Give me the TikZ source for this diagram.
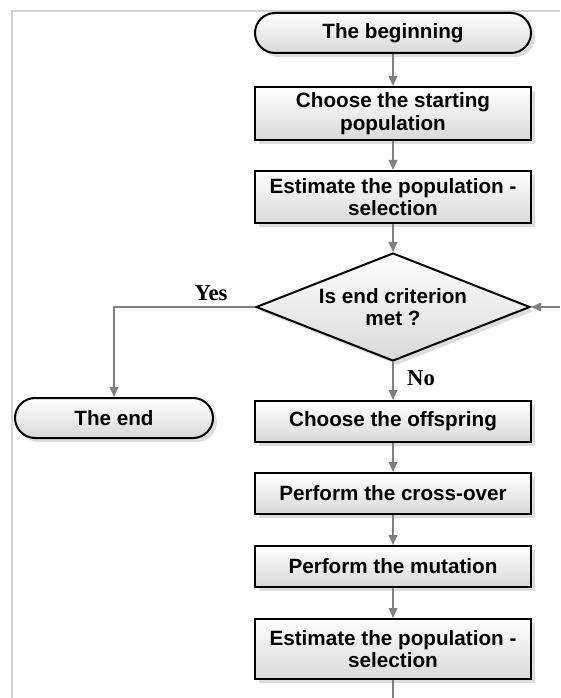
\documentclass[tikz,border=0pt]{standalone}
\usepackage{fontspec}
\setmainfont{Liberation Sans}
\newfontfamily\yesnofont{Liberation Serif}
\usetikzlibrary{shapes.geometric,shadows,arrows.meta}

\tikzset{
  box/.style={draw=black, line width=1.5pt, top color=white, bottom color=gray!30,
    drop shadow={shadow xshift=3pt,shadow yshift=-3pt,fill=gray!45,opacity=.6},
    minimum width=207pt, align=center, inner sep=2pt,
    font=\fontsize{15.5}{17}\selectfont\bfseries},
  term/.style={box, rounded corners=15pt},
  decision/.style={box, diamond, aspect=2.5, minimum width=205.5pt, minimum height=81pt, inner sep=0pt},
  arr/.style={draw=gray, line width=1.3pt, -{Triangle[length=7.5pt,width=6.5pt]}},
  lbl/.style={font=\yesnofont\fontsize{17}{17}\selectfont\bfseries}
}

\begin{document}
\begin{tikzpicture}[x=0.75pt,y=0.75pt,yscale=-1,xscale=1]
\useasboundingbox (0,0) rectangle (560,698);

%frame
\draw[gray!35, line width=1.5pt] (12,698) -- (12,11) -- (560,11);

%main column
\node[term, minimum height=30pt] (begin) at (393,33) {The beginning};
\node[box, minimum height=39.75pt] (choose) at (393,113.5) {Choose the starting\\population};
\node[box, minimum height=39pt] (estimate) at (393,197) {Estimate the population -\\selection};
\node[decision] (crit) at (393,307) {Is end criterion\\met ?};
\node[box, minimum height=30.75pt] (offspring) at (393,421.5) {Choose the offspring};
\node[box, minimum height=30.75pt] (crossover) at (393,493.5) {Perform the cross-over};
\node[box, minimum height=30.75pt] (mutation) at (393,566.5) {Perform the mutation};
\node[box, minimum height=45pt] (estimate2) at (393,649) {Estimate the population -\\selection};

%end
\node[term, minimum width=148.5pt, minimum height=30pt] (theend) at (114,418) {The end};

%labels
\node[lbl] (yes) at (211,293) {Yes};
\node[lbl] (no) at (421,378) {No};

\coordinate (loopin) at (560,307);
\coordinate (loopout) at (393,698);

%connectors
\draw[arr] (begin) -- (choose);
\draw[arr] (choose) -- (estimate);
\draw[arr] (estimate) -- (crit);
\draw[arr] (crit.west) -| (theend.north);
\draw[arr] (crit) -- (offspring);
\draw[arr] (offspring) -- (crossover);
\draw[arr] (crossover) -- (mutation);
\draw[arr] (mutation) -- (estimate2);
\draw[draw=gray, line width=1.3pt] (estimate2) -- (loopout);
\draw[arr] (loopin) -- (crit.east);

\end{tikzpicture}
\end{document}
